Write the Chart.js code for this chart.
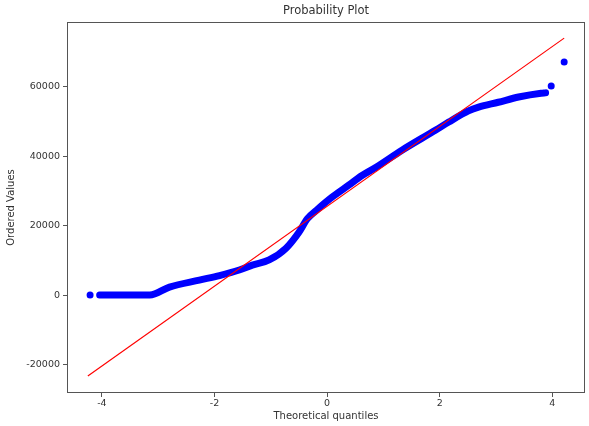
<!DOCTYPE html>
<html>
<head>
<meta charset="utf-8">
<script src="https://cdn.jsdelivr.net/npm/chart.js@4"></script>
<style>
  html, body { margin: 0; padding: 0; background: #fff; }
  #wrap { width: 589px; height: 426px; }
</style>
</head>
<body>
<div id="wrap"><canvas id="qq" width="589" height="426"></canvas></div>
<script>
// ===== data =====
const quantX = [-4.04, -3.6, -3.15, -2.8, -2.27, -1.91, -1.56, -1.33, -1.03, -0.73, -0.5, -0.35, -0.19, 0.09, 0.39, 0.62, 0.87, 1.33, 1.93, 2.16, 2.51, 2.69, 3.04, 3.4, 3.8, 3.88];
const orderedY = [0, 0, 0, 2300, 4300, 5600, 7200, 8600, 10100, 13500, 18100, 22000, 24400, 28200, 31700, 34400, 36800, 41700, 47500, 49800, 53000, 54100, 55500, 57000, 58100, 58200];
const outlierX = [-4.21, 3.98, 4.21];
const outlierY = [0, 60200, 67100];
const fitX = [-4.25, 4.21];
const fitY = [-23300, 73960];
const xTicks = [-4, -2, 0, 2, 4];
const yTicks = [-20000, 0, 20000, 40000, 60000];

const zip = (xs, ys) => xs.map((x, i) => ({ x: x, y: ys[i] }));

const textCol = '#333';
const frameCol = '#555';

// frame round the plot + title centred over the axes (matplotlib style)
const framePlugin = {
  id: 'frame',
  afterDraw(chart) {
    const a = chart.chartArea, ctx = chart.ctx;
    ctx.save();
    ctx.strokeStyle = frameCol;
    ctx.lineWidth = 1;
    ctx.strokeRect(a.left + 0.5, a.top + 0.5, a.right - a.left - 1, a.bottom - a.top - 1);
    ctx.fillStyle = textCol;
    ctx.font = '11.5px "DejaVu Sans"';
    ctx.textAlign = 'center';
    ctx.textBaseline = 'middle';
    ctx.fillText('Probability Plot', (a.left + a.right) / 2, 11);
    ctx.restore();
  }
};

new Chart(document.getElementById('qq').getContext('2d'), {
  type: 'scatter',
  data: {
    datasets: [
      { data: zip(fitX, fitY), showLine: true, borderColor: '#ff0000', borderWidth: 1.2, pointRadius: 0, order: 0 },
      { data: zip(outlierX, outlierY), backgroundColor: '#0000ff', borderColor: '#0000ff', pointRadius: 3.5, borderWidth: 0, order: 1 },
      { data: zip(quantX, orderedY), showLine: true, borderColor: '#0000ff', borderWidth: 7, borderCapStyle: 'round', borderJoinStyle: 'round',
        cubicInterpolationMode: 'monotone', pointRadius: 0, order: 2 }
    ]
  },
  options: {
    responsive: false,
    animation: false,
    devicePixelRatio: 1,
    layout: { padding: { left: 0, top: 22, right: 2, bottom: 0 } },
    plugins: { legend: { display: false }, tooltip: { enabled: false }, title: { display: false } },
    scales: {
      x: {
        type: 'linear', min: -4.62, max: 4.58,
        afterBuildTicks: s => { s.ticks = xTicks.map(v => ({ value: v })); },
        afterFit: s => { s.height = 33; },
        border: { display: false },
        grid: { drawOnChartArea: false, drawTicks: true, tickLength: 4, tickColor: frameCol },
        ticks: { color: textCol, padding: 1, maxRotation: 0, font: { family: 'DejaVu Sans', size: 9.5 } },
        title: { display: true, text: 'Theoretical quantiles', color: textCol, padding: { top: 0, bottom: 4 }, font: { family: 'DejaVu Sans', size: 10 } }
      },
      y: {
        type: 'linear', min: -28200, max: 78600,
        afterBuildTicks: s => { s.ticks = yTicks.map(v => ({ value: v })); },
        afterFit: s => { s.width = 67; },
        border: { display: false },
        grid: { drawOnChartArea: false, drawTicks: true, tickLength: 4, tickColor: frameCol },
        ticks: { color: textCol, padding: 3, callback: v => String(v), font: { family: 'DejaVu Sans', size: 9.5 } },
        title: { display: true, text: 'Ordered Values', color: textCol, padding: { top: 5, bottom: 0 }, font: { family: 'DejaVu Sans', size: 10 } }
      }
    }
  },
  plugins: [framePlugin]
});
</script>
</body>
</html>
